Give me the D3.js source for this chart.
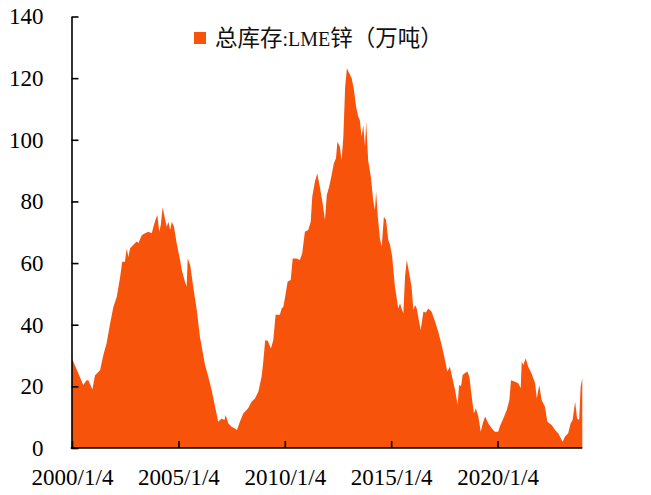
<!DOCTYPE html>
<html>
<head>
<meta charset="utf-8">
<script src="https://cdn.jsdelivr.net/npm/d3@7"></script>
<style>
  html, body { margin: 0; padding: 0; background: #fff; }
  svg { display: block; }
</style>
</head>
<body>
<svg id="chart" width="651" height="495"></svg>
<script>
// ---- Data ----
const seriesName = "总库存:LME锌（万吨）";
const dates = [
"2000-01-04","2000-07-15","2000-09-10","2000-10-10","2000-12-20","2001-02-01","2001-05-01","2001-06-25","2001-08-20","2001-10-20",
"2001-12-15","2002-02-10","2002-04-10","2002-05-15","2002-07-01","2002-08-01","2002-08-28","2002-09-28","2002-11-20","2003-01-20",
"2003-02-18","2003-04-15","2003-06-10","2003-08-08","2003-10-05","2003-11-01","2003-12-15","2004-01-08","2004-02-10","2004-03-08",
"2004-04-08","2004-05-15","2004-06-18","2004-07-15","2004-08-15","2004-09-12","2004-10-20","2004-12-05","2005-02-01","2005-03-01",
"2005-04-25","2005-05-25","2005-06-12","2005-07-25","2005-09-15","2005-11-15","2006-01-08","2006-04-05","2006-06-01","2006-07-28",
"2006-09-25","2006-11-18","2007-01-15","2007-03-05","2007-03-25","2007-05-10","2007-07-05","2007-09-01","2007-10-05","2007-11-25",
"2008-01-22","2008-04-15","2008-06-12","2008-08-10","2008-10-08","2008-12-01","2008-12-28","2009-02-01","2009-03-18","2009-05-10",
"2009-06-20","2009-07-30","2009-10-12","2009-11-10","2009-12-10","2010-01-10","2010-02-22","2010-04-15","2010-05-20","2010-07-25",
"2010-09-20","2010-10-30","2010-12-15","2011-02-10","2011-03-25","2011-04-20","2011-06-05","2011-07-15","2011-08-28","2011-10-15",
"2011-11-25","2011-12-25","2012-02-05","2012-03-18","2012-04-25","2012-06-01","2012-06-25","2012-08-05","2012-09-05","2012-10-05",
"2012-11-05","2012-12-05","2013-01-15","2013-02-25","2013-04-05","2013-05-12","2013-06-18","2013-07-15","2013-08-15","2013-09-12",
"2013-10-12","2013-11-01","2013-12-05","2014-01-20","2014-03-01","2014-04-01","2014-04-20","2014-05-20","2014-06-25","2014-07-25",
"2014-09-01","2014-10-08","2014-11-15","2014-12-15","2015-01-22","2015-02-10","2015-03-10","2015-05-05","2015-06-05","2015-07-01",
"2015-08-01","2015-08-30","2015-09-28","2015-11-10","2015-12-20","2016-01-20","2016-02-18","2016-03-18","2016-04-12","2016-05-25",
"2016-07-10","2016-08-22","2016-10-01","2016-11-28","2017-01-28","2017-03-22","2017-05-20","2017-07-15","2017-08-25","2017-10-08",
"2017-11-08","2018-01-05","2018-02-18","2018-03-15","2018-04-18","2018-05-15","2018-06-25","2018-08-05","2018-09-08","2018-10-18",
"2018-11-25","2018-12-28","2019-02-08","2019-03-22","2019-04-25","2019-06-05","2019-07-28","2019-09-25","2019-11-20","2020-01-15",
"2020-02-15","2020-04-12","2020-06-10","2020-07-25","2020-08-22","2020-10-30","2020-12-25","2021-02-05","2021-02-22","2021-03-22",
"2021-05-01","2021-06-15","2021-08-10","2021-10-10","2021-11-08","2021-12-20","2022-01-30","2022-03-28","2022-05-08","2022-07-20",
"2022-09-18","2022-11-10","2023-01-25","2023-03-08","2023-05-01","2023-06-12","2023-07-15","2023-08-28","2023-10-01","2023-11-05",
"2023-12-01","2023-12-29"
];
const values = [
29,20.4,22,22,19,23.5,25.3,30.2,34,40.5,
45.8,49,55.6,60.4,60.4,64.8,62,64.8,65.9,67,
66.5,69,69.7,70.2,69.7,71.8,74.5,75.6,70.2,72.4,
78.1,74.6,71.8,73.4,70.8,73.4,71.8,66.4,61,57.8,
54,52.3,61.5,59.4,52.3,44.8,36.1,27,23.1,18.8,
13.4,8.5,9.6,9.1,10.7,8,6.9,6.3,5.8,8.5,
11.2,12.9,15,16.1,18.3,23.1,27.5,35,34.8,32.3,
35,43.2,43.2,45.3,45.8,49.1,54,54.5,61.5,61.5,
61,63.2,70.2,70.7,73.4,81.5,86.4,89.1,84.8,79.4,
74,82.1,84.8,88.6,92.4,94,99.4,97.8,93.4,101,
117.2,123.2,121.6,120,116.2,110.7,107.5,106.4,101,104.8,
97.8,105.9,93.4,88,80.5,77.2,83.2,75,68,65.3,
75,74,67.5,66,62,57.8,52.3,45.3,47,45.3,
43.7,55.6,61,56.7,52.3,44.8,46.4,45.3,42.6,38.3,
44.2,44,45.3,44.2,41,37.7,33.4,28.6,24.8,26.4,
23.7,18.8,14,20.4,20,23.7,24.3,24.8,23,16.6,
11.2,12.9,10.2,5.3,8,10.2,8,6.4,5.3,5.3,
7.1,9.6,12.3,15.6,22,21.5,21,19.4,28,26.9,
29.1,26.4,24.2,21,16.1,20.4,15.6,13.4,8.5,7.5,
5.8,4.8,2,3.7,4.8,8,9.1,15,9.6,9.1,
19.9,22.6
];
const xTickLabels = ["2000/1/4","2005/1/4","2010/1/4","2015/1/4","2020/1/4"];
const yTicks = [0,20,40,60,80,100,120,140];
const xStart = "2000-01-04", xEnd = "2023-12-29";

(function () {
  const parse = d3.timeParse("%Y-%m-%d");
  const parseTick = d3.timeParse("%Y/%m/%d");
  const data = dates.map((d, i) => ({ date: parse(d), value: values[i] }));

  const svg = d3.select("#chart");
  const mLeft = 72, mRight = 582.3, mTop = 16.5, mBottom = 448;
  const color = "#F8530B";

  const x = d3.scaleTime().domain([parse(xStart), parse(xEnd)]).range([mLeft, mRight]);
  const y = d3.scaleLinear().domain([0, 140]).range([mBottom, mTop]);

  const area = d3.area()
    .x(d => x(d.date))
    .y0(y(0))
    .y1(d => y(d.value));

  svg.append("path").datum(data).attr("d", area).attr("fill", color);

  // Y axis
  const yAxis = d3.axisLeft(y).tickValues(yTicks).tickSize(-7).tickPadding(28).tickSizeOuter(0);
  const gy = svg.append("g").attr("transform", `translate(${mLeft - 0.5},0)`).call(yAxis);
  gy.select(".domain").attr("stroke", "#000").attr("stroke-width", 1.6);
  gy.selectAll(".tick line").attr("stroke", "#000").attr("stroke-width", 1.6);
  gy.selectAll(".tick text")
    .attr("font-family", "'Liberation Serif','Times New Roman',serif")
    .attr("font-size", 23).attr("fill", "#000");

  // X axis
  const xTickDates = xTickLabels.map(s => parseTick(s));
  const xAxis = d3.axisBottom(x).tickValues(xTickDates)
    .tickFormat((d, i) => xTickLabels[i]).tickSize(-7).tickPadding(28).tickSizeOuter(0);
  const gx = svg.append("g").attr("transform", `translate(0,${mBottom})`).call(xAxis);
  gx.select(".domain").attr("stroke", "#000").attr("stroke-width", 1.6)
    .attr("d", `M${mLeft - 1.3},0H${mRight}`);
  gx.selectAll(".tick line").attr("stroke", "#000").attr("stroke-width", 1.6);
  gx.selectAll(".tick text")
    .attr("font-family", "'Liberation Serif','Times New Roman',serif")
    .attr("font-size", 23).attr("fill", "#000").attr("dy", "0.4em");

  // Legend
  const lg = svg.append("g");
  lg.append("rect").attr("x", 194).attr("y", 32).attr("width", 12).attr("height", 12).attr("fill", color);
  const lt = lg.append("text").attr("x", 215).attr("y", 46)
    .attr("font-family", "'Liberation Serif','Noto Sans CJK SC',serif")
    .attr("font-size", 22.5).attr("fill", "#111");
  lt.append("tspan").text("总库存");
  lt.append("tspan").attr("font-size", 20).text(":LME");
  lt.append("tspan").text("锌（万吨）");
})();
</script>
</body>
</html>
